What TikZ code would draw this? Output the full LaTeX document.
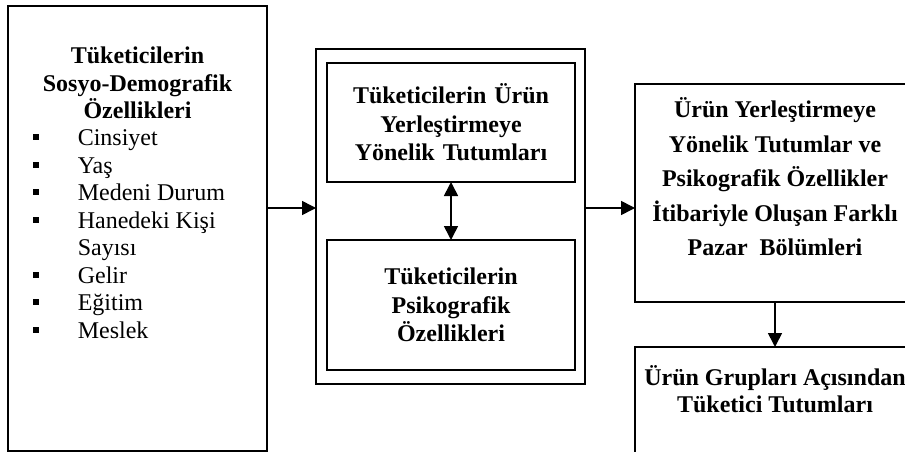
\documentclass[tikz,border=0pt]{standalone}
\usepackage{fontspec}
\setmainfont{Liberation Serif}
\usetikzlibrary{arrows.meta,positioning}

\newcommand\sqbullet{\rule[5.5pt]{6pt}{6pt}}

\begin{document}
\begin{tikzpicture}[x=1pt, y=-1pt, >={Triangle[length=14pt,width=14pt]}, line width=1.6pt,
    box/.style={draw, inner sep=0pt, outer sep=0pt, anchor=north west},
    head/.style={font=\fontsize{24}{27.5}\selectfont\bfseries, align=center, inner sep=0pt},
    itemlist/.style={font=\fontsize{24}{27.5}\selectfont, inner sep=0pt, anchor=north west}]
    \useasboundingbox (0,0) rectangle (905,452);

    % Boxes
    \node [box, minimum width=259pt, minimum height=445pt] (demo) at (8,6) {};
    \node [box, minimum width=269pt, minimum height=335pt] (frame) at (316,49) {};
    \node [box, head, minimum width=248pt, minimum height=119pt, text width=240pt,
           font=\fontsize{24}{28.5}\selectfont\bfseries] (tutum) at (327,63)
           {Tüketicilerin Ürün\\Yerleştirmeye\\Yönelik Tutumları};
    \node [box, head, minimum width=248pt, minimum height=130pt, text width=240pt,
           font=\fontsize{24}{28.5}\selectfont\bfseries] (psiko) at (327,240)
           {Tüketicilerin\\Psikografik\\Özellikleri};
    \node [box, minimum width=280pt, minimum height=218pt] (pazar) at (635,84) {};
    \node [box, minimum width=280pt, minimum height=120pt] (grup) at (635,347) {};

    % Texts
    \node [head, below=40.5pt of demo.north] (demohead)
          {Tüketicilerin\\Sosyo-Demografik\\Özellikleri};
    \node [itemlist] (demolist) at (32,125.75) {%
        \begin{tabular}{@{}l@{\hspace{39pt}}l@{}}
            \sqbullet & Cinsiyet\\
            \sqbullet & Yaş\\
            \sqbullet & Medeni Durum\\
            \sqbullet & Hanedeki Kişi\\
                      & Sayısı\\
            \sqbullet & Gelir\\
            \sqbullet & Eğitim\\
            \sqbullet & Meslek
        \end{tabular}};
    \node [head, below=13pt of pazar.north, font=\fontsize{24}{34.5}\selectfont\bfseries] (pazarhead)
          {Ürün Yerleştirmeye\\Yönelik Tutumlar ve\\Psikografik Özellikler\\İtibariyle Oluşan Farklı\\Pazar~ Bölümleri};
    \node [head, below=18pt of grup.north, font=\fontsize{24}{27}\selectfont\bfseries] (gruphead)
          {Ürün Grupları Açısından\\Tüketici Tutumları};

    % Paths
    \coordinate (row) at (0,208);
    \path [->] (demo.east |- row)  edge (frame.west |- row);
    \path [->] (frame.east |- row) edge (pazar.west |- row);
    \path [<->] (tutum) edge (psiko);
    \path [->] (pazar) edge (grup);
\end{tikzpicture}
\end{document}
